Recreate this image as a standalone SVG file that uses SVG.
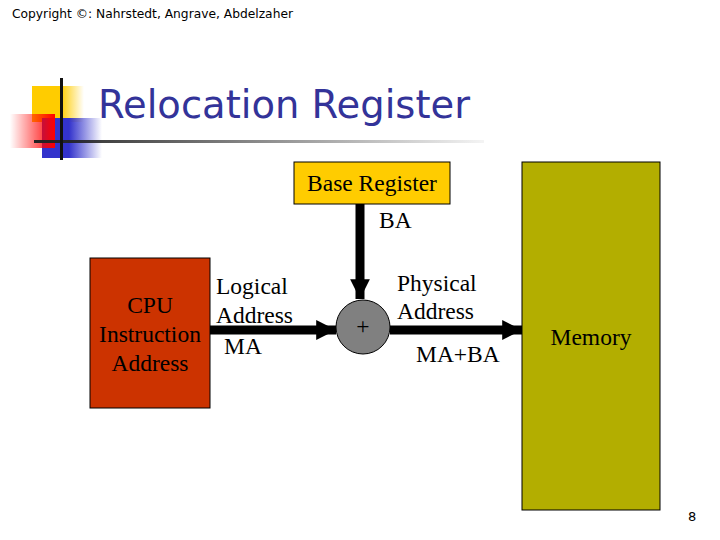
<svg xmlns="http://www.w3.org/2000/svg" width="720" height="540" viewBox="0 0 720 540">
<style>
.serif{font-family:"Liberation Serif","Times New Roman",serif;font-size:23.5px;fill:#000}
.box{stroke:#000;stroke-width:1}
.conn{stroke:#000;stroke-width:9;fill:none}
</style>
<defs>
<linearGradient id="gy" x1="0" y1="0" x2="1" y2="0"><stop offset="0" stop-color="#FFCC00"/><stop offset="0.55" stop-color="#FFCC00"/><stop offset="1" stop-color="#FFCC00" stop-opacity="0"/></linearGradient>
<linearGradient id="gr" x1="0" y1="0" x2="1" y2="0"><stop offset="0" stop-color="#FF0000" stop-opacity="0"/><stop offset="1" stop-color="#FF0000"/></linearGradient>
<linearGradient id="gb" x1="0" y1="0" x2="1" y2="0"><stop offset="0" stop-color="#3333CC"/><stop offset="0.45" stop-color="#3333CC"/><stop offset="1" stop-color="#3333CC" stop-opacity="0"/></linearGradient>
<linearGradient id="gl" x1="0" y1="0" x2="1" y2="0"><stop offset="0" stop-color="#222"/><stop offset="1" stop-color="#222" stop-opacity="0.05"/></linearGradient>
<marker id="ah" viewBox="0 0 10 10" refX="10" refY="5" markerWidth="2.2" markerHeight="2.2" orient="auto" markerUnits="strokeWidth"><path d="M0,0 L10,5 L0,10 Z" fill="#000"/></marker>
</defs>
<rect width="720" height="540" fill="#fff"/>
<text x="12" y="18" font-family="DejaVu Sans, Verdana, sans-serif" font-size="12" fill="#000" textLength="281" lengthAdjust="spacingAndGlyphs">Copyright ©: Nahrstedt, Angrave, Abdelzaher</text>
<g id="decor">
<rect x="32" y="86" width="52" height="36" fill="url(#gy)"/>
<rect x="42" y="118" width="60" height="40" fill="url(#gb)"/>
<rect x="10" y="114" width="45" height="34" fill="url(#gr)"/>
<rect x="34" y="140" width="450" height="3" fill="url(#gl)"/>
<rect x="60" y="78" width="3" height="82" fill="#111"/>
</g>
<text x="98" y="118" font-family="DejaVu Sans, Verdana, sans-serif" font-size="39" fill="#333399" textLength="372" lengthAdjust="spacingAndGlyphs">Relocation Register</text>
<g id="connectors">
<line class="conn" x1="360" y1="204" x2="360" y2="299" marker-end="url(#ah)"/>
<line class="conn" x1="210" y1="330" x2="336" y2="330" marker-end="url(#ah)"/>
<line class="conn" x1="390" y1="330" x2="522" y2="330" marker-end="url(#ah)"/>
</g>
<g id="base">
<rect class="box" x="294" y="162" width="156" height="42" fill="#FFCC00"/>
<text class="serif" x="372" y="191" font-size="21.5" text-anchor="middle">Base Register</text>
</g>
<text class="serif" x="379" y="228">BA</text>
<g id="cpu">
<rect class="box" x="90" y="258" width="120" height="150" fill="#CC3300"/>
<text class="serif" x="150" y="313" text-anchor="middle" fill="#330000">CPU</text>
<text class="serif" x="150" y="342" text-anchor="middle" fill="#330000">Instruction</text>
<text class="serif" x="150" y="371" text-anchor="middle" fill="#330000">Address</text>
</g>
<text class="serif" x="216" y="294">Logical</text>
<text class="serif" x="216" y="323">Address</text>
<text class="serif" x="224" y="354">MA</text>
<g id="adder">
<circle cx="363" cy="327" r="27" fill="#808080" stroke="#000"/>
<text class="serif" x="363" y="334" text-anchor="middle" font-size="20">+</text>
</g>
<text class="serif" x="397" y="291">Physical</text>
<text class="serif" x="397" y="319">Address</text>
<text class="serif" x="416" y="362">MA+BA</text>
<g id="memory">
<rect class="box" x="522" y="162" width="138" height="348" fill="#B3AE00"/>
<text class="serif" x="591" y="345" text-anchor="middle">Memory</text>
</g>
<text x="688" y="521" font-family="DejaVu Sans, Verdana, sans-serif" font-size="13" fill="#000">8</text>
</svg>
